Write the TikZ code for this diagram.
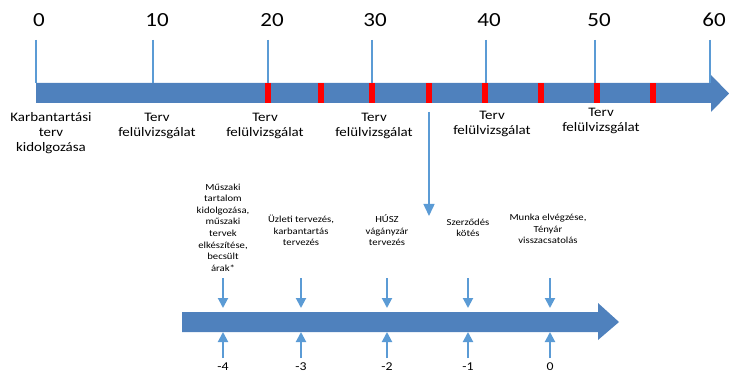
\documentclass[tikz,border=0pt]{standalone}
\usepackage{fontspec}
\setmainfont{Carlito}[FakeStretch=1.15]
\usetikzlibrary{arrows.meta}
\definecolor{bodyblue}{RGB}{79,129,189}
\definecolor{lineblue}{RGB}{91,155,213}
\definecolor{mark}{RGB}{255,0,0}
\tikzset{
  num/.style={font=\fontsize{20}{24}\selectfont, inner sep=0pt},
  toplab/.style={font=\fontsize{13}{15}\selectfont, align=center, inner sep=0pt},
  botlab/.style={font=\fontsize{9.3}{11.6}\selectfont, align=center, inner sep=0pt},
  botnum/.style={font=\fontsize{12}{14}\selectfont, inner sep=0pt},
  tick/.style={draw=lineblue, line width=1.5pt},
  redmark/.style={fill=mark, draw=none},
  smallarrow/.style={draw=lineblue, line width=2pt, -{Triangle[width=10pt,length=10pt]}},
}
\begin{document}
\begin{tikzpicture}[x=1pt,y=-1pt]
\useasboundingbox (0,0) rectangle (729,377);
% top timeline arrow
\fill[bodyblue] (36,83) -- (711,83) -- (711,75) -- (729,93.5) -- (711,112) -- (711,103) -- (36,103) -- cycle;
% tick lines and numbers
\foreach \x/\n/\lx [count=\i] in {36/0/39,153/10/157,268/20/272,372/30/375,486/40/489,595/50/599,710/60/714}{
  \coordinate (t\i) at (\x,40);
  \coordinate (b\i) at (\x,83);
  \draw[tick] (t\i) -- (b\i);
  \node[num] (n\i) at (\lx,20) {\n};
}
% red marks
\foreach \x [count=\i] in {268,321,372,429,485,541,597,653}{
  \fill[redmark] (\x-3,83) rectangle (\x+3,103);
}
% labels under the top arrow
\node[toplab] (l0) at (51,133) {Karbantartási\\terv\\kidolgozása};
\node[toplab] (l1) at (157,126) {Terv\\felülvizsgálat};
\node[toplab] (l2) at (265,126) {Terv\\felülvizsgálat};
\node[toplab] (l3) at (374,126) {Terv\\felülvizsgálat};
\node[toplab] (l4) at (492,124) {Terv\\felülvizsgálat};
\node[toplab] (l5) at (601,121) {Terv\\felülvizsgálat};
% connector to lower timeline
\coordinate (zoomstart) at (429,112);
\coordinate (zoomend) at (429,216);
\draw[draw=lineblue, line width=1.5pt, -{Triangle[width=11pt,length=12pt]}] (zoomstart) -- (zoomend);
% bottom timeline arrow
\fill[bodyblue] (182,312) -- (598,312) -- (598,303) -- (619,322) -- (598,340) -- (598,332) -- (182,332) -- cycle;
% step texts
\node[botlab] (s1) at (223,227.5) {Műszaki\\tartalom\\kidolgozása,\\műszaki\\tervek\\elkészítése,\\becsült\\árak*};
\node[botlab] (s2) at (301,230.5) {Üzleti tervezés,\\karbantartás\\tervezés};
\node[botlab] (s3) at (387,230.5) {HÚSZ\\vágányzár\\tervezés};
\node[botlab] (s4) at (468,228) {Szerződés\\kötés};
\node[botlab] (s5) at (548,229) {Munka elvégzése,\\Tényár\\visszacsatolás};
% small arrows and numbers
\foreach \x/\n [count=\i] in {223/-4,301/-3,387/-2,468/-1,550/0}{
  \coordinate (da\i) at (\x,278);
  \coordinate (db\i) at (\x,308);
  \coordinate (ua\i) at (\x,358);
  \coordinate (ub\i) at (\x,332);
  \draw[smallarrow] (da\i) -- (db\i);
  \draw[smallarrow] (ua\i) -- (ub\i);
  \node[botnum] (m\i) at (\x,367) {\n};
}
\end{tikzpicture}
\end{document}
